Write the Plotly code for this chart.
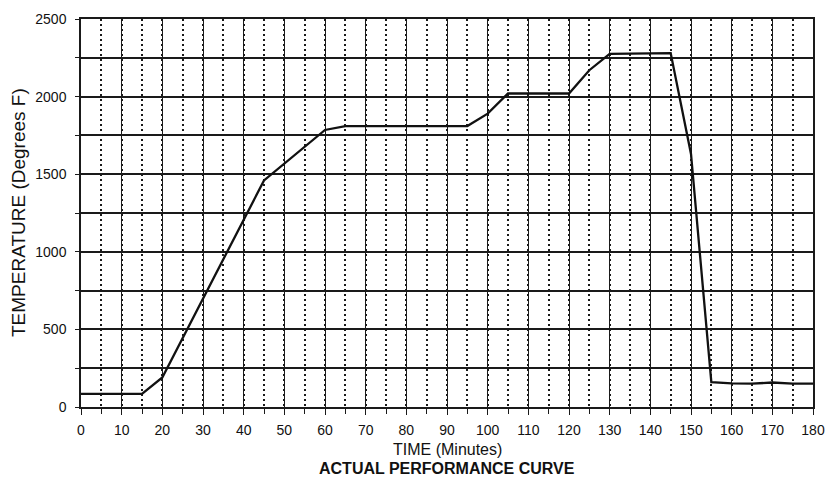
import plotly.graph_objects as go

time_min = [0, 15, 20, 45, 60, 65, 95, 100, 105, 120, 125, 130, 145, 150, 155, 160, 165, 170, 175, 180]
temp_f = [85, 85, 190, 1460, 1785, 1810, 1810, 1890, 2020, 2020, 2170, 2275, 2280, 1630, 160, 152, 150, 158, 150, 150]

x_ticks = list(range(0, 181, 10))
y_ticks = [0, 500, 1000, 1500, 2000, 2500]

fig = go.Figure()
fig.add_trace(go.Scatter(x=time_min, y=temp_f, mode="lines",
                         line=dict(color="#111111", width=2.3), showlegend=False))

font = "Liberation Sans, Arial, sans-serif"
gc = "#1a1a1a"
fig.update_layout(
    width=826, height=477,
    margin=dict(l=81, r=13, t=19, b=70),
    paper_bgcolor="white", plot_bgcolor="white",
    font=dict(family=font, color="#111111", size=12),
    xaxis=dict(
        range=[0, 180], tickvals=x_ticks, ticktext=[str(v) for v in x_ticks],
        automargin=False,
        showgrid=True, gridcolor=gc, gridwidth=1.4,
        ticks="outside", ticklen=6, tickcolor=gc, tickwidth=1.4,
        showline=True, linecolor=gc, linewidth=1.5, mirror=True,
        zeroline=False,
        minor=dict(dtick=5, tick0=0, showgrid=True, gridcolor=gc,
                   griddash="2px,3px", gridwidth=1.6, ticks="outside", ticklen=5,
                   tickcolor=gc, tickwidth=1.2),
        tickfont=dict(size=14, family=font, color="#111111"),
        ticklabelstandoff=3,
    ),
    yaxis=dict(
        range=[0, 2500], tickvals=y_ticks, ticktext=[str(v) for v in y_ticks],
        automargin=False,
        showgrid=True, gridcolor=gc, gridwidth=1.5,
        ticks="outside", ticklen=4, tickcolor=gc, tickwidth=1.4,
        showline=True, linecolor=gc, linewidth=1.5, mirror=True,
        zeroline=False,
        minor=dict(dtick=250, tick0=0, showgrid=True, gridcolor=gc,
                   gridwidth=1.5, ticks="outside", ticklen=4, tickcolor=gc),
        tickfont=dict(size=14, family=font, color="#111111"),
        ticklabelstandoff=6,
    ),
    annotations=[
        dict(text="TIME (Minutes)", xref="paper", yref="paper", x=0.5, y=0,
             xanchor="center", yanchor="middle", yshift=-42, showarrow=False,
             font=dict(size=16, family=font, color="#111111")),
        dict(text="<b>ACTUAL PERFORMANCE CURVE</b>", xref="paper", yref="paper", x=0.5, y=0,
             xanchor="center", yanchor="middle", yshift=-61, showarrow=False,
             font=dict(size=16, family=font, color="#111111")),
        dict(text="TEMPERATURE (Degrees F)", xref="paper", yref="paper", x=0, y=0.5,
             xanchor="center", yanchor="middle", xshift=-63, textangle=-90, showarrow=False,
             font=dict(size=19, family=font, color="#111111")),
    ],
)

fig.write_html(
    "out.html",
    config={"displayModeBar": False},
    post_script="document.documentElement.style.margin='0';document.body.style.margin='0';document.body.style.overflow='hidden';",
)
